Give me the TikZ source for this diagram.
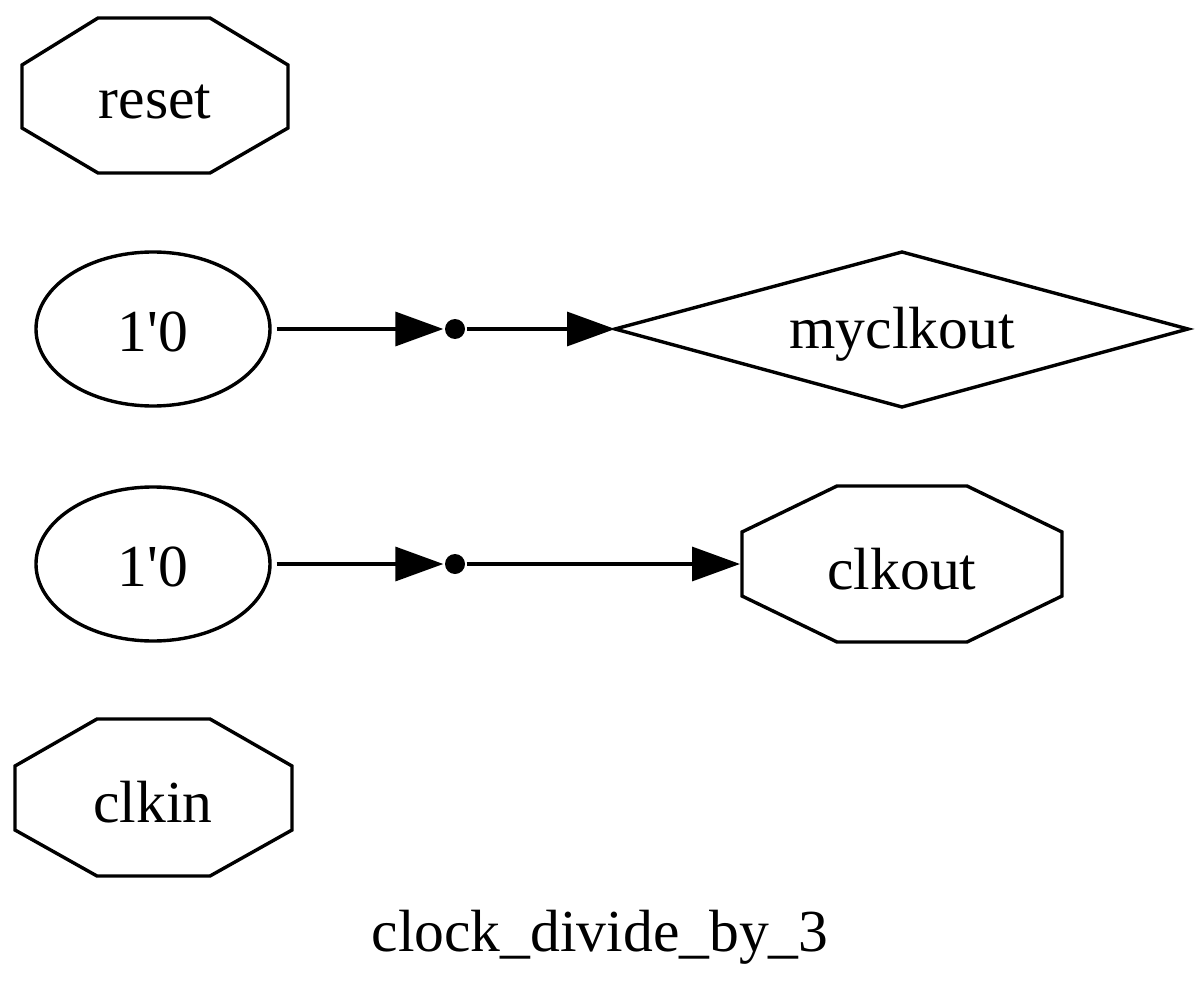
\documentclass[tikz,border=0pt]{standalone}
\usepackage{fontspec}
\setmainfont{Liberation Serif}
\usetikzlibrary{shapes.geometric,arrows.meta}
\begin{document}
\begin{tikzpicture}[x=0.5pt,y=-0.5pt,
  line width=1.7pt,
  lbl/.style={font=\fontsize{29.8}{36}\selectfont, inner sep=0pt},
  ell/.style={draw, ellipse, minimum width=117pt, minimum height=77pt, inner sep=0pt, font=\fontsize{29.8}{36}\selectfont},
  joint/.style={circle, fill=black, minimum size=10pt, inner sep=0pt},
  edge/.style={-{Triangle[length=24pt,width=17pt]}, shorten >=0pt}
]
\useasboundingbox (0,0) rectangle (1204,1000);

% reset
\draw (22,65) -- (98,18) -- (210,18) -- (288,65) -- (288,128) -- (210,173) -- (98,173) -- (22,128) -- cycle;
\node[lbl] (reset) at (155,102) {reset};

% first row
\node[ell] (c1) at (153,329) {};
\node[lbl] (t1) at (153,332) {1\textquotesingle 0};
\node[joint] (j1) at (455,329) {};
\draw (615,329) -- (902,252) -- (1188,329) -- (902,407) -- cycle;
\coordinate (myin) at (615,329);
\node[lbl] (myclkout) at (902,334) {myclkout};
\draw[edge] ([xshift=2.5pt]c1.east) -- (j1);
\draw[edge] (j1) -- (myin);

% second row
\node[ell] (c2) at (153,564) {};
\node[lbl] (t2) at (153,567) {1\textquotesingle 0};
\node[joint] (j2) at (455,564) {};
\draw (742,532) -- (837,486) -- (967,486) -- (1062,532) -- (1062,596) -- (967,642) -- (837,642) -- (742,596) -- cycle;
\coordinate (ckin) at (740,564);
\node[lbl] (clkout) at (902,569) {clkout};
\draw[edge] ([xshift=2.5pt]c2.east) -- (j2);
\draw[edge] (j2) -- (ckin);

% clkin
\draw (15,766) -- (97,719) -- (210,719) -- (292,766) -- (292,830) -- (210,876) -- (97,876) -- (15,830) -- cycle;
\node[lbl] (clkin) at (153,802) {clkin};

% title
\node[lbl] (title) at (600,937) {clock\_divide\_by\_3};
\end{tikzpicture}
\end{document}
